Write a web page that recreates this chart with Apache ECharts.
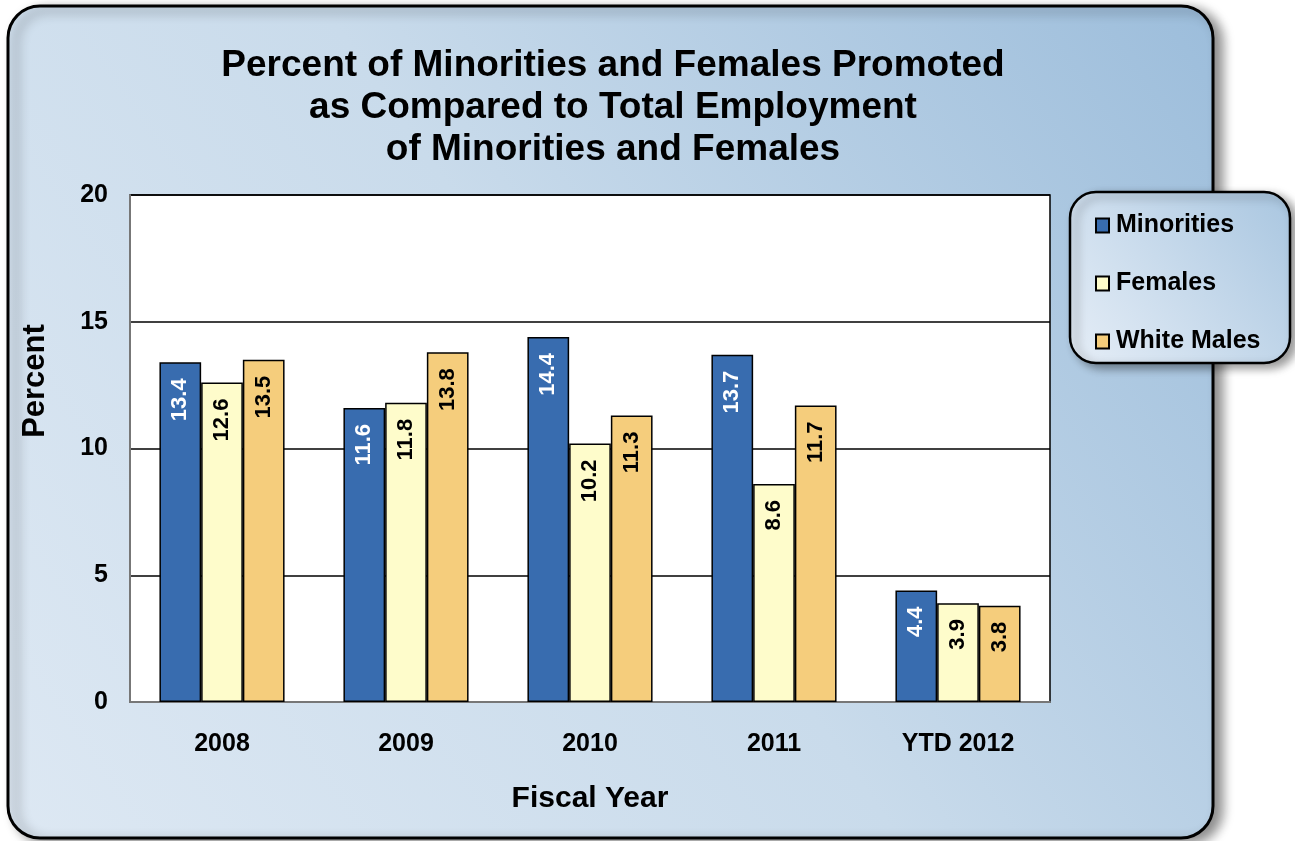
<!DOCTYPE html>
<html><head><meta charset="utf-8">
<script src="https://cdn.jsdelivr.net/npm/echarts@6/dist/echarts.min.js"></script>
<style>html,body{margin:0;padding:0;background:#fff;}#c{width:1295px;height:841px;}</style>
</head><body><div id="c"></div>
<script>
const categories = ['2008', '2009', '2010', '2011', 'YTD 2012'];
const minorities = [13.4, 11.6, 14.4, 13.7, 4.4];
const females = [12.6, 11.8, 10.2, 8.6, 3.9];
const whiteMales = [13.5, 13.8, 11.3, 11.7, 3.8];
const seriesNames = ['Minorities', 'Females', 'White Males'];
const yTicks = [0, 5, 10, 15, 20];

const FONT = '"Liberation Sans", Arial, sans-serif';
const chart = echarts.init(document.getElementById('c'));
const bg = new echarts.graphic.LinearGradient(0, 1, 1, 0, [
  {offset: 0, color: '#dde8f3'}, {offset: 0.5, color: '#c9dbeb'}, {offset: 1, color: '#9cbddb'}]);
const legBg = new echarts.graphic.LinearGradient(0, 1, 1, 0, [
  {offset: 0, color: '#e6eef7'}, {offset: 1, color: '#a9c6e0'}]);

function lbl(color) {
  return {show: true, position: 'insideTop', rotate: 90, align: 'right', verticalAlign: 'middle',
    distance: 16, color: color, fontFamily: FONT, fontWeight: 'bold', fontSize: 22,
    formatter: p => p.value.toFixed(1)};
}
const colors = ['#386caf', '#fefccb', '#f5cd7c'];
const labelColors = ['#ffffff', '#000000', '#000000'];
const dataSets = [minorities, females, whiteMales];

chart.setOption({
  animation: false,
  graphic: [
    {type: 'rect', z: -10, shape: {x: 8, y: 6, width: 1205, height: 832, r: 32},
     style: {fill: bg, stroke: '#000', lineWidth: 3, shadowBlur: 12, shadowOffsetX: 8, shadowOffsetY: 4, shadowColor: 'rgba(0,0,0,0.45)'}},
    {type: 'rect', z: 5, shape: {x: 1070, y: 192, width: 220, height: 171, r: 26},
     style: {fill: legBg, stroke: '#000', lineWidth: 2.5, shadowBlur: 10, shadowOffsetX: 6, shadowOffsetY: 4, shadowColor: 'rgba(0,0,0,0.4)'}},
    {type: 'text', z: 10, x: 35, y: 381, rotation: Math.PI / 2,
     style: {text: 'Percent', fill: '#000', font: 'bold 31px "Liberation Sans", Arial, sans-serif', textAlign: 'center', textVerticalAlign: 'middle'}}
  ],
  title: {
    text: 'Percent of Minorities and Females Promoted\nas Compared to Total Employment\nof Minorities and Females',
    left: 608, top: 40, textAlign: 'center',
    textStyle: {fontFamily: FONT, fontWeight: 'bold', fontSize: 37, lineHeight: 42, color: '#000'}
  },
  legend: {
    orient: 'vertical', left: 1090, top: 208, itemGap: 33, z: 10,
    itemWidth: 13, itemHeight: 14, icon: 'rect',
    textStyle: {fontFamily: FONT, fontWeight: 'bold', fontSize: 25, color: '#000', padding: [0, 0, 0, 2]},
    data: seriesNames
  },
  grid: {left: 130, right: 245, top: 195, bottom: 139, show: true, backgroundColor: '#fff', borderColor: '#000', borderWidth: 1.5},
  xAxis: {
    type: 'category', data: categories,
    axisLine: {lineStyle: {color: '#777', width: 2}}, axisTick: {show: false},
    axisLabel: {fontFamily: FONT, fontWeight: 'bold', fontSize: 25, color: '#000', margin: 30},
    name: 'Fiscal Year', nameLocation: 'middle', nameGap: 82,
    nameTextStyle: {fontFamily: FONT, fontWeight: 'bold', fontSize: 30, color: '#000'}
  },
  yAxis: {
    type: 'value', min: 0, max: 20, interval: 5,
    axisLine: {show: true, lineStyle: {color: '#777', width: 2}}, axisTick: {show: false},
    splitLine: {lineStyle: {color: '#000', width: 1.5}},
    axisLabel: {fontFamily: FONT, fontWeight: 'bold', fontSize: 25, color: '#000', margin: 22,
      formatter: v => yTicks.includes(v) ? String(v) : ''}
  },
  series: seriesNames.map((n, i) => ({
    name: n, type: 'bar', data: dataSets[i], barGap: '0%', barCategoryGap: '32%',
    itemStyle: {color: colors[i], borderColor: '#000', borderWidth: 1.5},
    label: lbl(labelColors[i])
  }))
});
</script></body></html>
